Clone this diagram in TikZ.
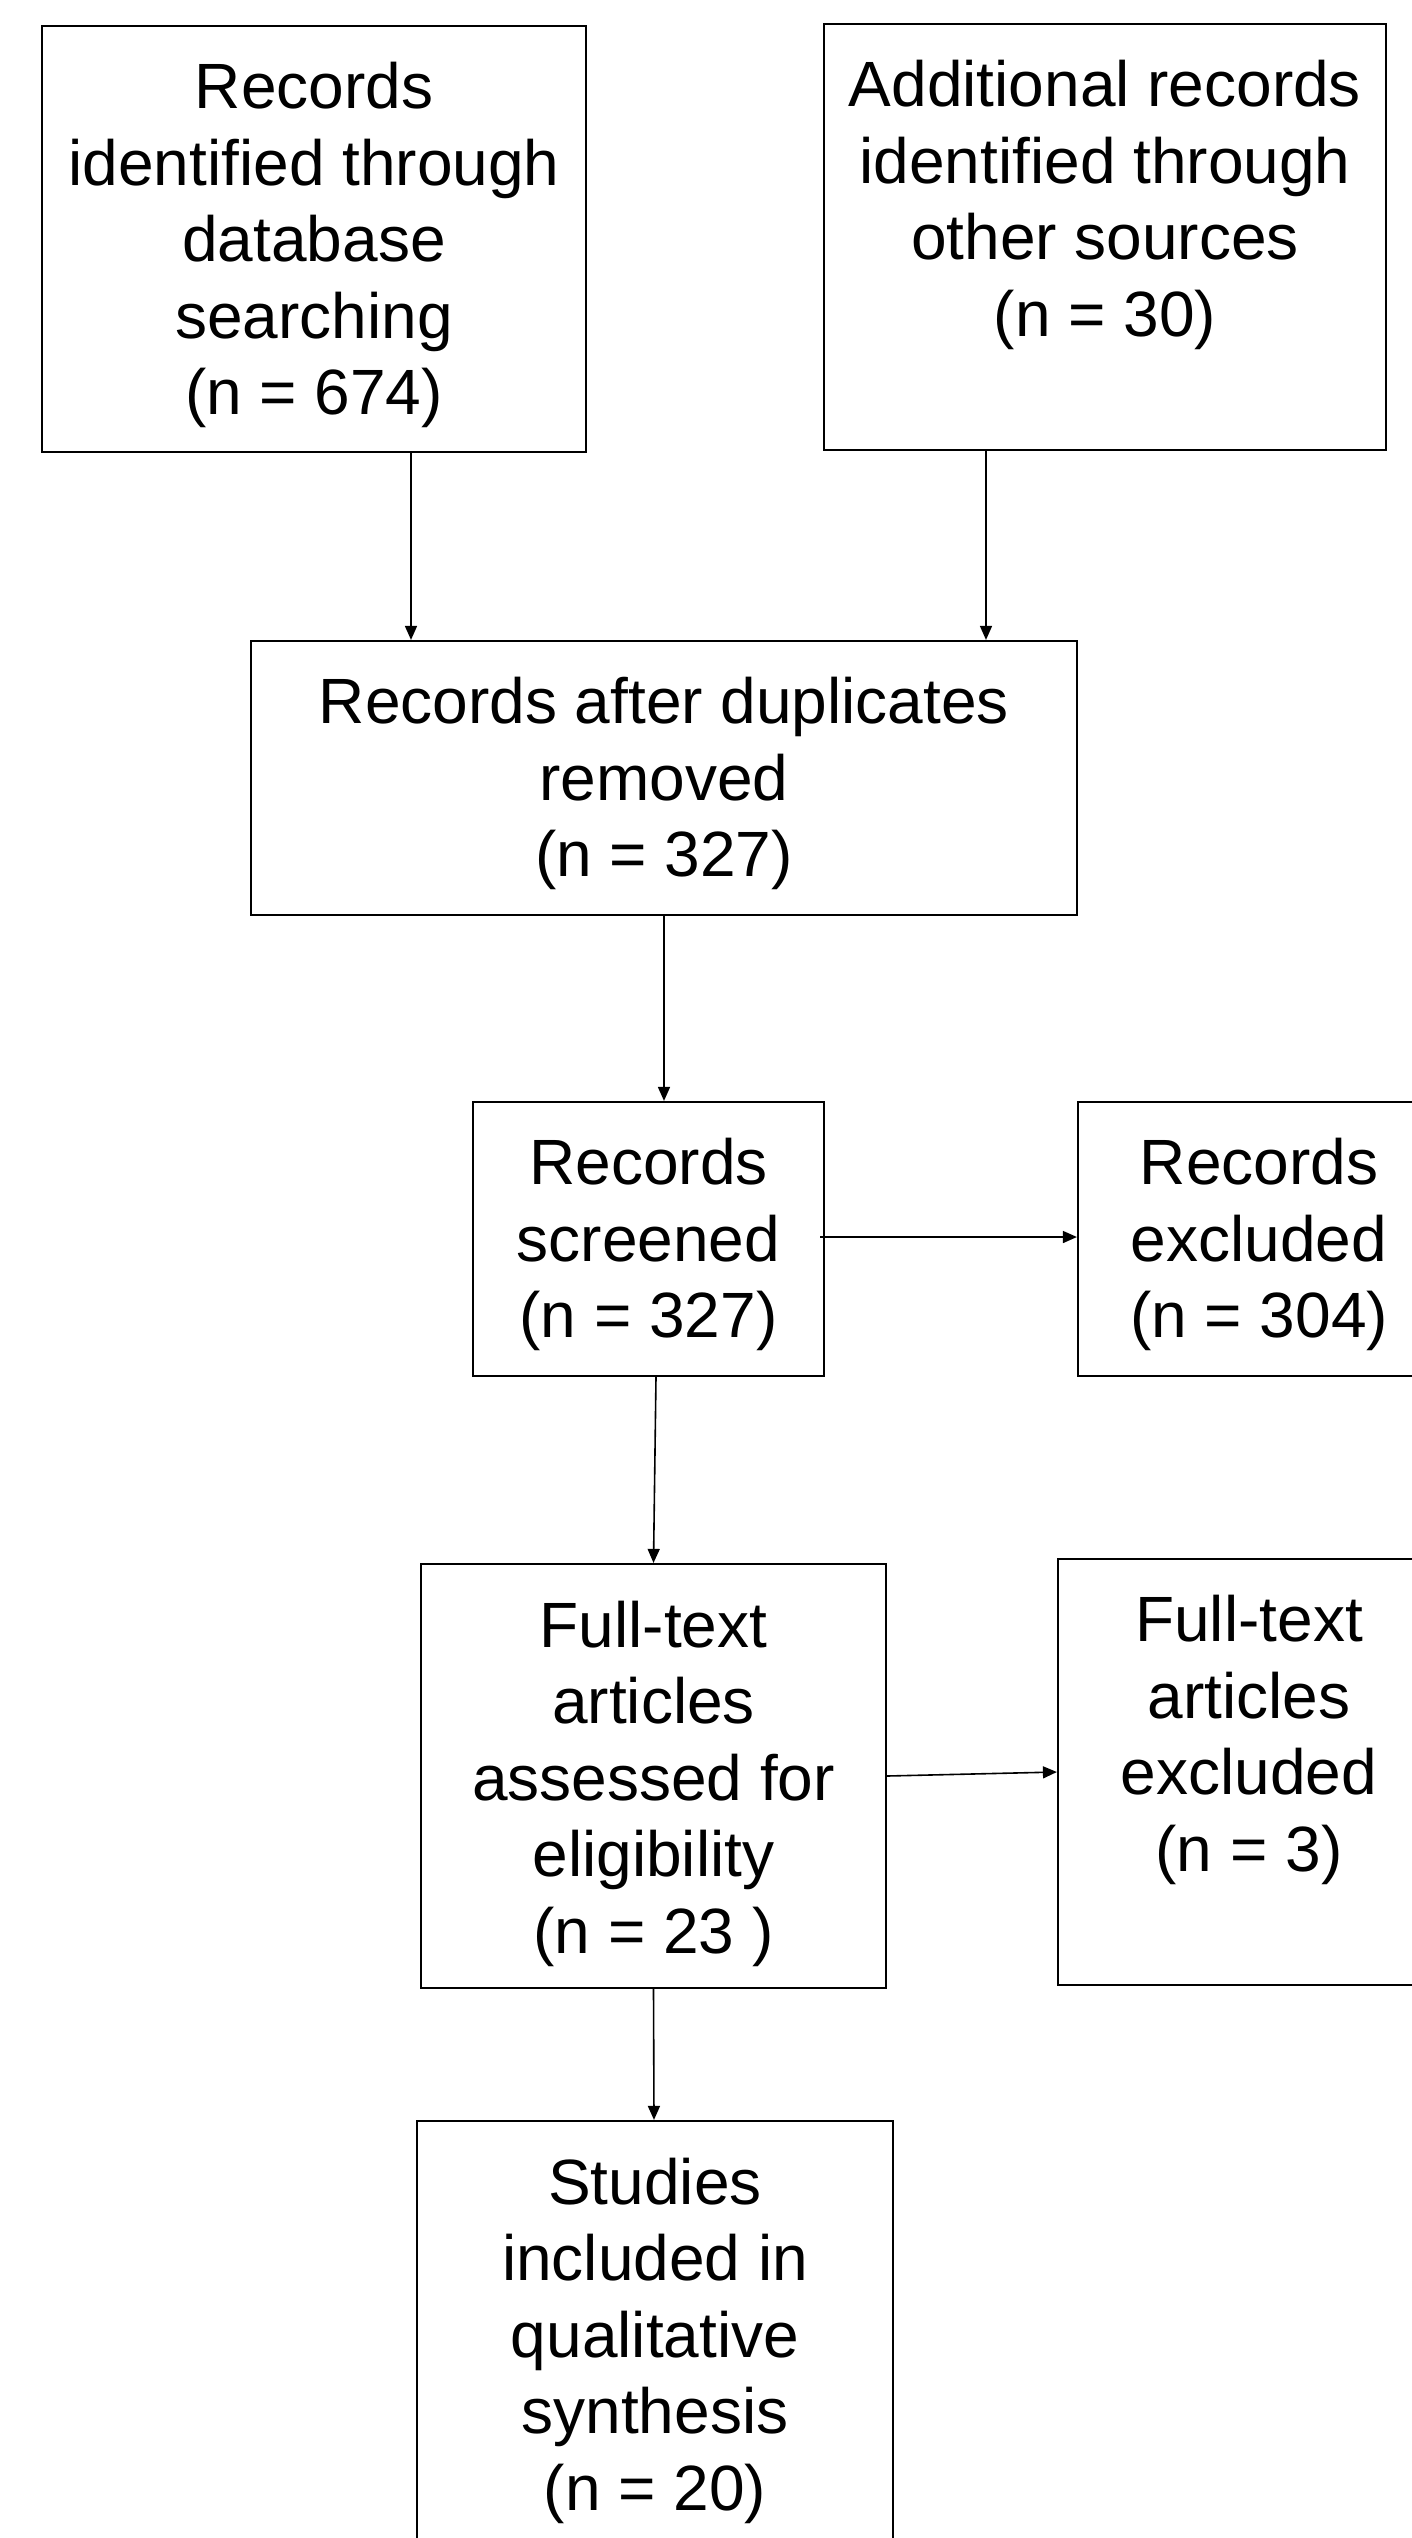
\documentclass[tikz,border=0pt]{standalone}
\usepackage{fontspec}
\setmainfont{Liberation Sans}
\usetikzlibrary{arrows.meta,calc}
\tikzset{
  box/.style={draw=black, line width=2.2pt, inner sep=0pt, fill=white},
  txt/.style={align=center, inner sep=0pt, anchor=north, font=\fontsize{64}{76.5}\selectfont},
  arr/.style={draw=black, line width=1.6pt, -{Triangle[length=14pt,width=12pt]}}
}
\begin{document}
\begin{tikzpicture}[x=1pt,y=-1pt]
\useasboundingbox (0,0) rectangle (1412,2538);
\clip (0,0) rectangle (1412,2538);
\fill[white] (0,0) rectangle (1412,2538);
% boxes
\node[box, minimum width=544pt, minimum height=426pt] (b1) at (314,239) {};
\node[box, minimum width=562pt, minimum height=426pt] (b2) at (1105,237) {};
\node[box, minimum width=826pt, minimum height=274pt] (b3) at (664,778) {};
\node[box, minimum width=351pt, minimum height=274pt] (b4) at (648.5,1239) {};
\node[box, minimum width=362pt, minimum height=274pt] (b5) at (1259,1239) {};
\node[box, minimum width=465pt, minimum height=424pt] (b6) at (653.5,1776) {};
\node[box, minimum width=382pt, minimum height=426pt] (b7) at (1249,1772) {};
\node[box, minimum width=476pt, minimum height=449pt] (b8) at (655,2345.5) {};
% texts
\node[txt] (t1) at ([yshift=-37.5pt]b1.north) {Records\\identified through\\database\\searching\\(n = 674)};
\node[txt] (t2) at ([yshift=-37.5pt]b2.north) {Additional records\\identified through\\other sources\\(n = 30)};
\node[txt] (t3) at ([yshift=-37.5pt]b3.north) {Records after duplicates\\removed\\(n = 327)};
\node[txt] (t4) at ([yshift=-37.5pt]b4.north) {Records\\screened\\(n = 327)};
\node[txt] (t5) at ([yshift=-37.5pt]b5.north) {Records\\excluded\\(n = 304)};
\node[txt] (t6) at ([yshift=-37.5pt]b6.north) {Full-text\\articles\\assessed for\\eligibility\\(n = 23 )};
\node[txt] (t7) at ([yshift=-37.5pt]b7.north) {Full-text\\articles\\excluded\\(n = 3)};
\node[txt] (t8) at ([yshift=-37.5pt]b8.north) {Studies\\included in\\qualitative\\synthesis\\(n = 20)};
% connectors
\coordinate (s4) at ([xshift=-5pt,yshift=2pt]b4.east);
\draw[arr] ([xshift=97pt]b1.south) -- ([xshift=97pt]b1.south |- b3.north);
\draw[arr] ([xshift=-119pt]b2.south) -- ([xshift=-119pt]b2.south |- b3.north);
\draw[arr] (b3.south) -- (b3.south |- b4.north);
\draw[arr] (s4) -- (b5.west |- s4);
\draw[arr] ([xshift=7.5pt]b4.south) -- (b6.north);
\draw[arr] (b6.east) -- (b7.west);
\draw[arr] (b6.south) -- ([xshift=-1pt]b8.north);
\end{tikzpicture}
\end{document}
